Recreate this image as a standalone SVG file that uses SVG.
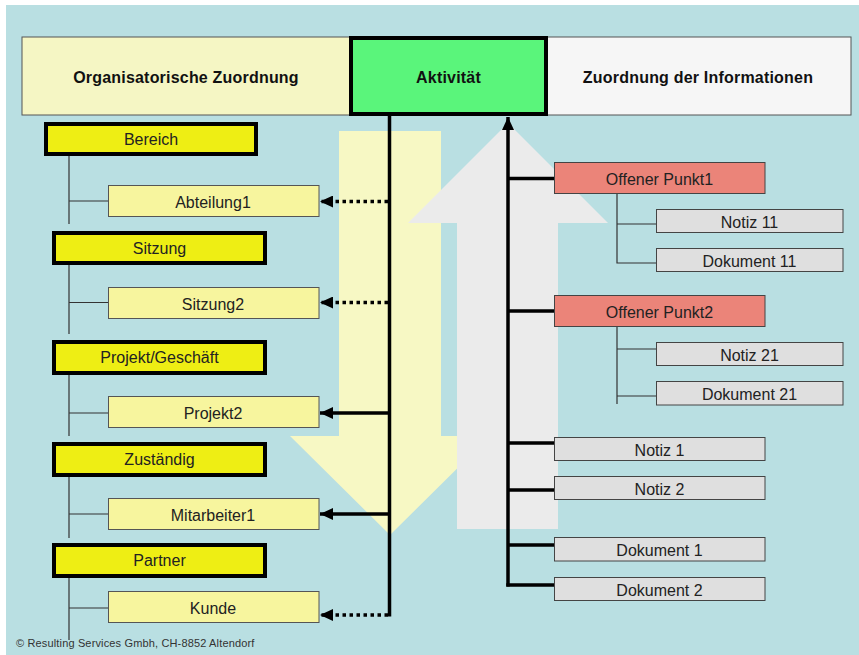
<svg xmlns="http://www.w3.org/2000/svg" width="859" height="655" viewBox="0 0 859 655">
<defs>
<marker id="ah" markerUnits="userSpaceOnUse" markerWidth="14" markerHeight="12" refX="13" refY="6" orient="auto">
<path d="M0,0 L13,6 L0,12 Z" fill="#000"/>
</marker>
<style>
.hdr{font-family:"Liberation Sans",Arial,sans-serif;font-weight:bold;font-size:16px;fill:#111;text-anchor:middle;letter-spacing:0.2px}
.t{font-family:"Liberation Sans",Arial,sans-serif;font-size:16px;fill:#222;text-anchor:middle}
.head rect{fill:#eeee14;stroke:#000;stroke-width:4}
.sub rect{fill:#f7f59e;stroke:#555;stroke-width:1}
.op rect{fill:#eb8479;stroke:#444;stroke-width:1}
.gr rect{fill:#dfdfdf;stroke:#444;stroke-width:1}
.thin{stroke:#333;stroke-width:1.2;fill:none}
.thick{stroke:#000;stroke-width:3.5;fill:none}
.dot{stroke:#000;stroke-width:3.5;fill:none;stroke-dasharray:3.5 3.5}
</style>
</defs>
<rect x="0" y="0" width="859" height="655" fill="#fff"/>
<rect x="6" y="5" width="853" height="650" fill="#b9dfe2"/>

<g id="header">
<rect x="22" y="37" width="328" height="78" fill="#f5f6c4" stroke="#555" stroke-width="1"/>
<rect x="547" y="37" width="304" height="78" fill="#f6f6f6" stroke="#555" stroke-width="1"/>
<text class="hdr" x="186" y="83">Organisatorische Zuordnung</text>
<text class="hdr" x="698" y="83">Zuordnung der Informationen</text>
</g>

<g id="bigarrows">
<polygon points="339,131 441,131 441,436 490,436 390,535 290,436 339,436" fill="#f7f8c4"/>
<polygon points="508,123 608,223 558,223 558,529 457,529 457,223 408,223" fill="#ebebeb"/>
</g>

<g id="connectors">
<line class="thick" x1="389.5" y1="116" x2="389.5" y2="616.5"/>
<line class="dot" x1="388" y1="201.5" x2="320" y2="201.5" marker-end="url(#ah)"/>
<line class="dot" x1="388" y1="302.5" x2="320" y2="302.5" marker-end="url(#ah)"/>
<line class="thick" x1="388" y1="413" x2="320" y2="413" marker-end="url(#ah)"/>
<line class="thick" x1="388" y1="514" x2="320" y2="514" marker-end="url(#ah)"/>
<line class="dot" x1="388" y1="615" x2="320" y2="615" marker-end="url(#ah)"/>

<line class="thick" x1="508" y1="586.5" x2="508" y2="117" marker-end="url(#ah)"/>
<line class="thick" x1="508" y1="178.5" x2="554" y2="178.5"/>
<line class="thick" x1="508" y1="311" x2="554" y2="311"/>
<line class="thick" x1="508" y1="443" x2="554" y2="443"/>
<line class="thick" x1="508" y1="490" x2="554" y2="490"/>
<line class="thick" x1="508" y1="545" x2="554" y2="545"/>
<line class="thick" x1="506.3" y1="585" x2="554" y2="585"/>

<path class="thin" d="M69,156 V224 M69,201 H108"/>
<path class="thin" d="M69,265 V334 M69,302.5 H108"/>
<path class="thin" d="M69,375 V436 M69,413 H108"/>
<path class="thin" d="M69,477 V538 M69,514 H108"/>
<path class="thin" d="M69,578 V640 M69,608 H108"/>
<path class="thin" d="M617,193 V263 H656 M617,224 H656"/>
<path class="thin" d="M617,326 V404 M617,349 H656 M617,396 H656"/>
</g>

<g id="aktivitaet">
<rect x="351" y="38" width="195" height="76" fill="#5af57b" stroke="#000" stroke-width="4"/>
<text class="hdr" x="448.5" y="83">Aktivität</text>
</g>

<g id="bereich" class="head"><rect x="46" y="124" width="210" height="30"/><text class="t" x="151" y="145">Bereich</text></g>
<g id="abteilung1" class="sub"><rect x="108.5" y="185.5" width="210.5" height="31"/><text class="t" x="213" y="208">Abteilung1</text></g>
<g id="sitzung" class="head"><rect x="54" y="233" width="211" height="30"/><text class="t" x="159.5" y="254">Sitzung</text></g>
<g id="sitzung2" class="sub"><rect x="108.5" y="287.5" width="210.5" height="31"/><text class="t" x="213" y="310">Sitzung2</text></g>
<g id="projekt" class="head"><rect x="54" y="342" width="211" height="31"/><text class="t" x="159.5" y="363">Projekt/Geschäft</text></g>
<g id="projekt2" class="sub"><rect x="108.5" y="396.5" width="210.5" height="31"/><text class="t" x="213" y="419">Projekt2</text></g>
<g id="zustaendig" class="head"><rect x="54" y="444" width="211" height="31"/><text class="t" x="159.5" y="465">Zuständig</text></g>
<g id="mitarbeiter1" class="sub"><rect x="108.5" y="498.5" width="210.5" height="31"/><text class="t" x="213" y="521">Mitarbeiter1</text></g>
<g id="partner" class="head"><rect x="54" y="545" width="211" height="31"/><text class="t" x="159.5" y="566">Partner</text></g>
<g id="kunde" class="sub"><rect x="108.5" y="591.5" width="210.5" height="31"/><text class="t" x="213" y="614">Kunde</text></g>

<g id="op1" class="op"><rect x="554.5" y="162.5" width="210.5" height="31"/><text class="t" x="659.5" y="185">Offener Punkt1</text></g>
<g id="notiz11" class="gr"><rect x="656.5" y="209.5" width="186.5" height="23"/><text class="t" x="749.5" y="228">Notiz 11</text></g>
<g id="dok11" class="gr"><rect x="656.5" y="248.5" width="186.5" height="23"/><text class="t" x="749.5" y="267">Dokument 11</text></g>
<g id="op2" class="op"><rect x="554.5" y="295.5" width="210.5" height="31"/><text class="t" x="659.5" y="318">Offener Punkt2</text></g>
<g id="notiz21" class="gr"><rect x="656.5" y="342.5" width="186.5" height="23"/><text class="t" x="749.5" y="361">Notiz 21</text></g>
<g id="dok21" class="gr"><rect x="656.5" y="381.5" width="186.5" height="23.5"/><text class="t" x="749.5" y="400">Dokument 21</text></g>
<g id="notiz1" class="gr"><rect x="554.5" y="437.5" width="210.5" height="23"/><text class="t" x="659.5" y="456">Notiz 1</text></g>
<g id="notiz2" class="gr"><rect x="554.5" y="476.5" width="210.5" height="23"/><text class="t" x="659.5" y="495">Notiz 2</text></g>
<g id="dok1" class="gr"><rect x="554.5" y="537.5" width="210.5" height="23.5"/><text class="t" x="659.5" y="556">Dokument 1</text></g>
<g id="dok2" class="gr"><rect x="554.5" y="577.5" width="210.5" height="23"/><text class="t" x="659.5" y="596">Dokument 2</text></g>

<text x="16" y="647" font-family="'Liberation Sans',Arial,sans-serif" font-size="11" fill="#333" letter-spacing="0.15">© Resulting Services Gmbh, CH-8852 Altendorf</text>
</svg>
